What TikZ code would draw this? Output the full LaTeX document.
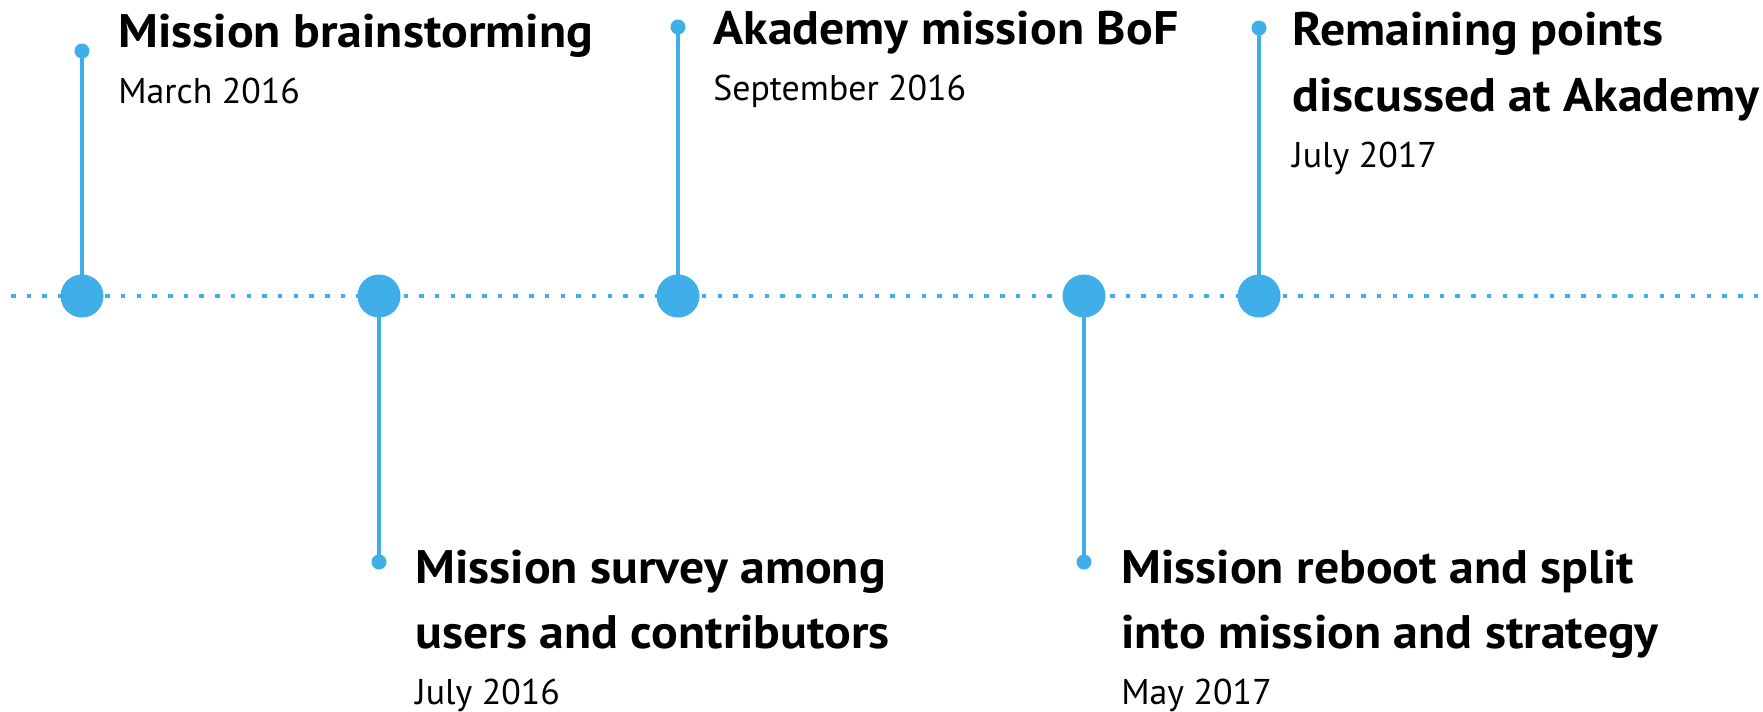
\documentclass[tikz,border=0pt]{standalone}
\usepackage{fontspec}
\setmainfont{PT Sans}
\newfontfamily\tfam{PT Sans}[FakeStretch=1.06]
\definecolor{kblue}{RGB}{64,174,233}
\newcommand{\tfont}{\tfam\fontsize{23.5}{23.5}\selectfont\bfseries}
\newcommand{\dfont}{\fontsize{17.9}{17.9}\selectfont}
\begin{document}
\begin{tikzpicture}[x=0.5pt,y=-0.5pt,
  bigdot/.style={circle,fill=kblue,inner sep=0pt,minimum size=21.5pt},
  smalldot/.style={circle,fill=kblue,inner sep=0pt,minimum size=7.5pt},
  stem/.style={draw=kblue,line width=1.75pt},
  axis/.style={draw=kblue,line width=2pt,dash pattern=on 2.25pt off 5.6pt,dash phase=-5.5pt},
  ttl/.style={anchor=base west,inner sep=0pt,font=\tfont},
  dte/.style={anchor=base west,inner sep=0pt,font=\dfont}]
\useasboundingbox (0,0) rectangle (1763,712);
\coordinate (L) at (0,296);
\coordinate (R) at (1763,296);
\draw[axis] (L) -- (R);
% events
\node[bigdot] (c1) at (82,296) {};
\node[bigdot] (c2) at (379,296) {};
\node[bigdot] (c3) at (678,296) {};
\node[bigdot] (c4) at (1084,296) {};
\node[bigdot] (c5) at (1259,296) {};
\node[smalldot] (s1) at (82,51) {};
\node[smalldot] (s2) at (379,562) {};
\node[smalldot] (s3) at (678,27) {};
\node[smalldot] (s4) at (1084,562) {};
\node[smalldot] (s5) at (1259,28) {};
\foreach \i in {1,...,5} {\draw[stem] (c\i.center) -- (s\i.center);}
% texts
\node[ttl] (t1) at (118,47) {Mission brainstorming};
\node[dte] (d1) at (118,103) {March 2016};
\node[ttl] (t2a) at (415,583) {Mission survey among};
\node[ttl] (t2b) at (415,648) {users and contributors};
\node[dte] (d2) at (415,704) {July 2016};
\node[ttl] (t3) at (713,44) {Akademy mission BoF};
\node[dte] (d3) at (713,100) {September 2016};
\node[ttl] (t4a) at (1121,583) {Mission reboot and split};
\node[ttl] (t4b) at (1121,648) {into mission and strategy};
\node[dte] (d4) at (1121,704) {May 2017};
\node[ttl] (t5a) at (1292,46) {Remaining points};
\node[ttl] (t5b) at (1292,111) {discussed at Akademy};
\node[dte] (d5) at (1292,167) {July 2017};
\end{tikzpicture}
\end{document}
